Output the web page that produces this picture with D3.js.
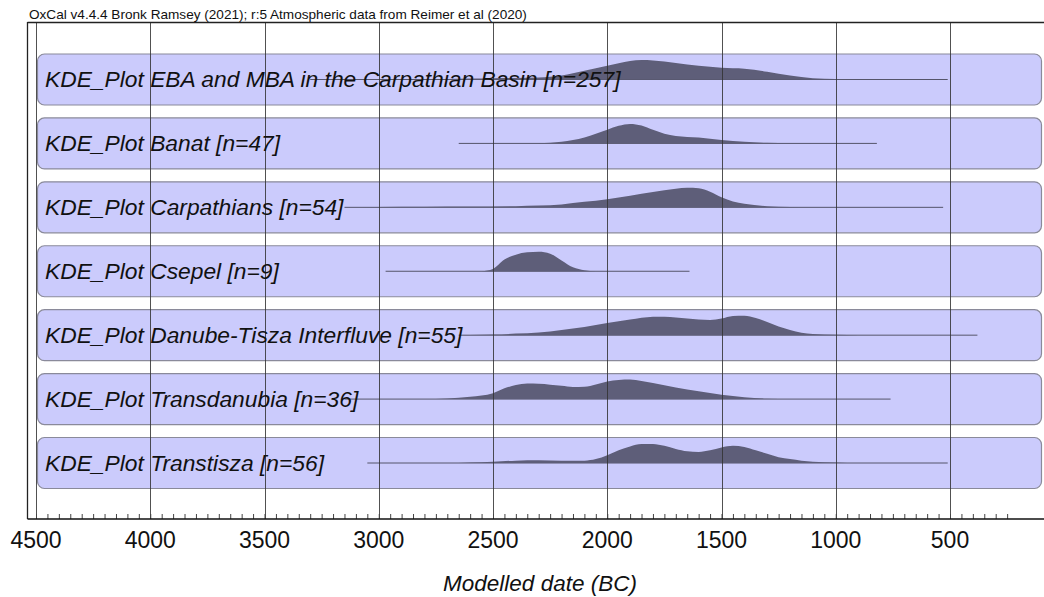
<!DOCTYPE html>
<html>
  <head>
    <meta charset="utf-8">
    <title>KDE plots</title>
    <script src="https://cdn.jsdelivr.net/npm/d3@7"></script>
  </head>

  <style>
    body {
      margin: 0;
      background: #ffffff;
    }
    text {
      font-family: Arial, "Liberation Sans", sans-serif;
      fill: #111;
    }
  </style>

  <body>
    <script>

      var width = 1044,
        height = 597;

      // groups, top to bottom
      var names = [
        "KDE_Plot EBA and MBA in the Carpathian Basin [n=257]",
        "KDE_Plot Banat [n=47]",
        "KDE_Plot Carpathians [n=54]",
        "KDE_Plot Csepel [n=9]",
        "KDE_Plot Danube-Tisza Interfluve [n=55]",
        "KDE_Plot Transdanubia [n=36]",
        "KDE_Plot Transtisza [n=56]"
      ];

      // range line of each group, years BC [start, end]
      var ranges = [
        [3300, 510], [2650, 820], [3150, 530], [2970, 1640],
        [2650, 380], [3150, 760], [3050, 510]
      ];

      // density, [year BC, relative height]
      var kdeEba = [[2750,0],[2700,0.02],[2600,0.05],[2500,0.07],[2400,0.08],[2300,0.1],[2200,0.2],
        [2100,0.45],[2000,0.7],[1900,0.95],[1850,1],[1800,0.98],[1700,0.85],[1600,0.7],[1500,0.6],
        [1400,0.55],[1300,0.4],[1200,0.2],[1100,0.07],[1000,0.02],[900,0]];
      var kdeBanat = [[2300,0],[2250,0.03],[2200,0.08],[2100,0.3],[2000,0.7],[1950,0.9],[1900,1],
        [1850,0.92],[1800,0.7],[1750,0.5],[1700,0.38],[1600,0.3],[1500,0.18],[1400,0.08],[1300,0.03],
        [1200,0.01],[1100,0]];
      var kdeCarp = [[3150,0],[3000,0.02],[2800,0.03],[2600,0.04],[2400,0.06],[2300,0.09],[2200,0.15],
        [2100,0.28],[2000,0.42],[1900,0.6],[1800,0.78],[1700,0.95],[1650,1],[1600,0.98],[1550,0.8],
        [1500,0.52],[1450,0.3],[1400,0.18],[1300,0.06],[1200,0.02],[1100,0]];
      var kdeCsepel = [[2550,0],[2500,0.12],[2450,0.6],[2400,0.85],[2350,0.97],[2300,1],[2250,0.9],
        [2200,0.55],[2150,0.2],[2100,0.05],[2050,0]];
      var kdeDanube = [[2650,0],[2600,0.01],[2500,0.03],[2400,0.08],[2300,0.14],[2200,0.27],[2100,0.42],
        [2000,0.62],[1900,0.8],[1800,0.94],[1750,0.95],[1700,0.9],[1600,0.8],[1550,0.78],[1500,0.85],
        [1450,0.98],[1400,1],[1350,0.88],[1300,0.68],[1250,0.45],[1200,0.27],[1150,0.13],[1100,0.06],
        [1000,0.02],[900,0]];
      var kdeTransd = [[2750,0],[2700,0.03],[2600,0.12],[2500,0.3],[2450,0.55],[2400,0.72],[2350,0.8],
        [2300,0.79],[2200,0.68],[2150,0.62],[2100,0.63],[2050,0.75],[2000,0.9],[1950,0.98],[1900,1],
        [1850,0.93],[1800,0.82],[1700,0.6],[1600,0.4],[1500,0.22],[1400,0.1],[1300,0.02],[1200,0]];
      var kdeTranst = [[2650,0],[2600,0.02],[2500,0.07],[2400,0.12],[2300,0.14],[2200,0.12],[2100,0.12],
        [2050,0.2],[2000,0.4],[1950,0.65],[1900,0.85],[1850,0.97],[1800,0.98],[1750,0.88],[1700,0.72],
        [1650,0.6],[1600,0.57],[1550,0.65],[1500,0.8],[1450,0.88],[1400,0.82],[1350,0.65],[1300,0.47],
        [1250,0.3],[1200,0.2],[1150,0.12],[1100,0.07],[1000,0.02],[950,0]];

      var densities = [kdeEba, kdeBanat, kdeCarp, kdeCsepel, kdeDanube, kdeTransd, kdeTranst];

      var majorTicks = [4500, 4000, 3500, 3000, 2500, 2000, 1500, 1000, 500];
      var minorTicks = d3.range(4500, 249, -50);

      var header = "OxCal v4.4.4 Bronk Ramsey (2021); r:5 Atmospheric data from Reimer et al (2020)";
      var xTitle = "Modelled date (BC)";

      var svg = d3.select("body")
        .append("svg")
        .attr("width", width)
        .attr("height", height);

      var x = d3.scaleLinear()
        .domain([4500, 500])
        .range([36, 950]);

      // row centre
      var row = d3.scaleLinear()
        .domain([0, names.length - 1])
        .range([79.5, 463]);

      var h = d3.scaleLinear()
        .domain([0, 1])
        .range([0, 19.5]);

      var frameTop = 22,
        axisY = 519,
        frameLeft = 27.5;

      // panels
      svg.selectAll(".panel")
        .data(names)
        .enter()
        .append("rect")
        .attr("class", "panel")
        .attr("x", 37.5)
        .attr("y", (d, i) => row(i) - 25.5)
        .attr("width", 1004)
        .attr("height", 51)
        .attr("rx", 7)
        .attr("fill", "#cbcbfc")
        .attr("stroke", "#8a8a9a")
        .attr("stroke-width", 1.2);

      // range lines
      svg.selectAll(".range")
        .data(ranges)
        .enter()
        .append("line")
        .attr("class", "range")
        .attr("x1", d => x(d[0]))
        .attr("x2", d => x(d[1]))
        .attr("y1", (d, i) => row(i))
        .attr("y2", (d, i) => row(i))
        .attr("stroke", "#55556a")
        .attr("stroke-width", 1);

      // densities
      densities.forEach(function (dens, i) {
        var area = d3.area()
          .x(d => x(d[0]))
          .y0(row(i))
          .y1(d => row(i) - h(d[1]))
          .curve(d3.curveMonotoneX);

        svg.append("path")
          .datum(dens)
          .attr("d", area)
          .attr("fill", "#5e5e79");
      });

      // grid
      svg.selectAll(".grid")
        .data(majorTicks)
        .enter()
        .append("line")
        .attr("class", "grid")
        .attr("x1", d => Math.round(x(d)) + 0.5)
        .attr("x2", d => Math.round(x(d)) + 0.5)
        .attr("y1", frameTop)
        .attr("y2", axisY)
        .attr("stroke", "#333")
        .attr("stroke-opacity", 0.85)
        .attr("stroke-width", 1);

      // frame
      svg.append("line")
        .attr("x1", frameLeft).attr("x2", width)
        .attr("y1", frameTop + 0.5).attr("y2", frameTop + 0.5)
        .attr("stroke", "#222").attr("stroke-width", 1.3);
      svg.append("line")
        .attr("x1", frameLeft).attr("x2", frameLeft)
        .attr("y1", frameTop).attr("y2", axisY)
        .attr("stroke", "#222").attr("stroke-width", 1.3);

      // axis
      var axis = d3.axisTop(x)
        .tickValues(minorTicks)
        .tickSize(5)
        .tickFormat("");

      var gAxis = svg.append("g")
        .attr("transform", "translate(0," + axisY + ")")
        .call(axis);
      gAxis.select(".domain").remove();
      gAxis.selectAll(".tick line").attr("stroke", "#444");

      svg.append("line")
        .attr("x1", frameLeft).attr("x2", width)
        .attr("y1", axisY).attr("y2", axisY)
        .attr("stroke", "#111").attr("stroke-width", 1.6);

      svg.selectAll(".tlabel")
        .data(majorTicks)
        .enter()
        .append("text")
        .attr("class", "tlabel")
        .attr("x", d => x(d))
        .attr("y", 548)
        .attr("text-anchor", "middle")
        .style("font-size", "23px")
        .text(d => d);

      // labels
      svg.selectAll(".name")
        .data(names)
        .enter()
        .append("text")
        .attr("class", "name")
        .attr("x", 45)
        .attr("y", (d, i) => row(i) + 7.5)
        .style("font-size", "22.8px")
        .style("font-style", "italic")
        .text(d => d);

      svg.append("text")
        .attr("x", 29)
        .attr("y", 19)
        .style("font-size", "13.6px")
        .text(header);

      svg.append("text")
        .attr("x", 540)
        .attr("y", 591)
        .attr("text-anchor", "middle")
        .style("font-size", "22.5px")
        .style("font-style", "italic")
        .text(xTitle);

    </script>
  </body>
</html>
